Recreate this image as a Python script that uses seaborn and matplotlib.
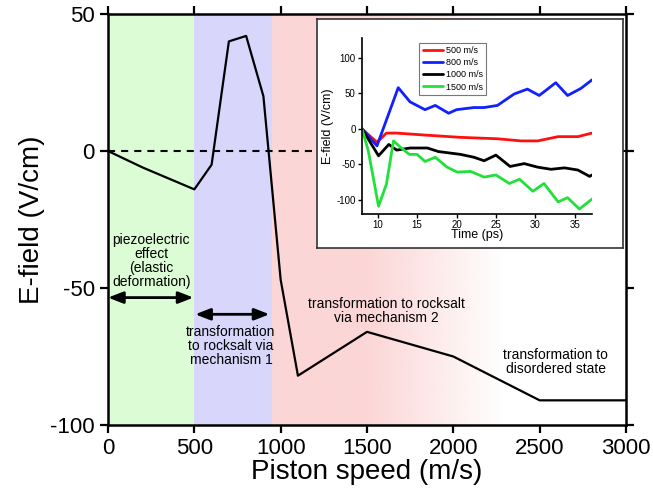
import numpy as np
import pandas as pd
import matplotlib
matplotlib.use("Agg")
import matplotlib.pyplot as plt
import seaborn as sns

# main curve: E-field vs piston speed
speed = [0, 200, 500, 600, 700, 800, 900, 1000, 1100, 1500, 2000, 2500, 3000]
efield = [0, -6, -14, -5, 40, 42, 20, -47, -82, -66, -75, -91, -91]

# inset: E-field vs time for several piston speeds
t_500 = [8, 9.9, 11.1, 12.4, 16.3, 20.5, 25.2, 28.2, 30.3, 32.9, 35.4, 37.2]
e_500 = [0, -19, -6, -6, -9, -12, -14, -17, -17, -11, -11, -6]

t_800 = [8, 9.9, 12.6, 14.1, 16, 17.3, 19, 20, 22.2, 23.5, 25.2, 27.3, 29, 30.5, 32.6, 34.1, 35.8, 37.2]
e_800 = [0, -24, 58, 38, 27, 33, 22, 27, 30, 30, 33, 49, 56, 47, 65, 47, 57, 69]

t_1000 = [8, 10.1, 11.4, 12.4, 14.1, 16.3, 17.7, 20.5, 22.2, 23.5, 25, 26.8, 28.6, 30.3, 32, 33.7, 35.4, 36.9, 37.2]
e_1000 = [0, -38, -22, -30, -27, -27, -32, -36, -40, -45, -37, -53, -49, -54, -57, -55, -58, -67, -65]

t_1500 = [8, 8.8, 10.1, 11.1, 12, 12.9, 14, 15, 16, 17.3, 18.8, 20.1, 21.8, 23.5, 25, 26.7, 28, 29.7, 31.1, 32.9, 34.1, 35.6, 37.2]
e_1500 = [0, -31, -109, -78, -17, -26, -36, -36, -46, -40, -54, -61, -60, -68, -65, -77, -71, -88, -77, -103, -97, -113, -99]

series_names = ["500 m/s", "800 m/s", "1000 m/s", "1500 m/s"]
series_colors = ["#ff1010", "#1020ff", "#000000", "#22e03a"]

sns.set_style("ticks")
plt.rcParams["font.family"] = ["Liberation Sans", "DejaVu Sans"]
plt.rcParams["axes.unicode_minus"] = False
for k in ["text.color", "axes.labelcolor", "xtick.color", "ytick.color", "axes.edgecolor"]:
    plt.rcParams[k] = "black"

fig = plt.figure(figsize=(6.53, 4.94), dpi=100)
ax = fig.add_axes([108/653, 1-425/494, 518/653, 411/494])

# shaded regimes
ax.axvspan(0, 500, color="#dcfcd6", zorder=0, lw=0)
ax.axvspan(500, 950, color="#d9d6fc", zorder=0, lw=0)
xs = np.linspace(950, 3000, 600)
alpha = np.clip((2300 - xs) / (2300 - 1500), 0, 1)
grad = np.zeros((1, len(xs), 4))
grad[..., 0] = 252/255
grad[..., 1] = 214/255
grad[..., 2] = 214/255
grad[..., 3] = alpha
ax.imshow(grad, extent=[950, 3000, -100, 50], aspect="auto", zorder=0, interpolation="bilinear")

ax.axhline(0, color="k", lw=1.5, dashes=(3.4, 2.9), zorder=1)
main = pd.DataFrame({"speed": speed, "efield": efield})
sns.lineplot(data=main, x="speed", y="efield", color="k", lw=1.6, ax=ax, zorder=3)

ax.set_xlim(0, 3000)
ax.set_ylim(-100, 50)
ax.set_xticks(range(0, 3001, 500))
ax.set_yticks([-100, -50, 0, 50])
ax.tick_params(direction="out", length=6, width=1.6, labelsize=16,
               top=True, right=True, labeltop=False, labelright=False)
for s in ax.spines.values():
    s.set_linewidth(1.8)
ax.set_xlabel("Piston speed (m/s)", fontsize=20, labelpad=0)
ax.set_ylabel("E-field (V/cm)", fontsize=20, labelpad=4)

arrow = dict(arrowstyle="<|-|>,head_length=0.9,head_width=0.35", lw=2, color="k",
             shrinkA=0, shrinkB=0)
ax.annotate("", xy=(0, -53.5), xytext=(495, -53.5), arrowprops=arrow)
ax.annotate("", xy=(505, -59.6), xytext=(935, -59.6), arrowprops=arrow)

ax.text(250, -40, "piezoelectric\neffect\n(elastic\ndeformation)", ha="center", va="center",
        fontsize=10, linespacing=1.0)
ax.text(712, -71, "transformation\nto rocksalt via\nmechanism 1", ha="center", va="center",
        fontsize=10, linespacing=1.0)
ax.text(1615, -58.5, "transformation to rocksalt\nvia mechanism 2", ha="center", va="center",
        fontsize=10, linespacing=1.0)
ax.text(2594, -77, "transformation to\ndisordered state", ha="center", va="center",
        fontsize=10, linespacing=1.0)

# inset frame
frame = fig.add_axes([317/653, 1-248/494, 306/653, 229/494])
frame.set_xticks([])
frame.set_yticks([])
frame.set_facecolor("white")
for s in frame.spines.values():
    s.set_color("#333333")
    s.set_linewidth(1.2)

ins = fig.add_axes([362/653, 1-214/494, 230/653, 176/494])
ins.set_facecolor("none")
inset_t = [t_500, t_800, t_1000, t_1500]
inset_e = [e_500, e_800, e_1000, e_1500]
rows = []
for name, tt, ee in zip(series_names, inset_t, inset_e):
    for a, b in zip(tt, ee):
        rows.append((name, a, b))
ins_df = pd.DataFrame(rows, columns=["speed", "time", "efield"])
sns.lineplot(data=ins_df, x="time", y="efield", hue="speed", hue_order=series_names,
             palette=series_colors, lw=2.0, ax=ins, sort=False)
ins.set_xlim(8, 37.2)
ins.set_ylim(-120, 128)
ins.set_xticks([10, 15, 20, 25, 30, 35])
ins.set_yticks([-100, -50, 0, 50, 100])
sns.despine(ax=ins)
ins.tick_params(direction="out", length=3, width=1, labelsize=7, pad=1.5)
for s in ins.spines.values():
    s.set_linewidth(1.2)
ins.set_xlabel("Time (ps)", fontsize=9, labelpad=-1)
ins.set_ylabel("E-field (V/cm)", fontsize=9, labelpad=2)
leg = ins.legend(loc="upper left", bbox_to_anchor=(0.23, 1.0), fontsize=6.5, frameon=True,
                 fancybox=False, edgecolor="#555555", handlelength=2.2, handletextpad=0.3,
                 borderpad=0.4, labelspacing=0.35, title=None)
leg.get_frame().set_linewidth(0.8)

fig.savefig("out.png", dpi=100)
